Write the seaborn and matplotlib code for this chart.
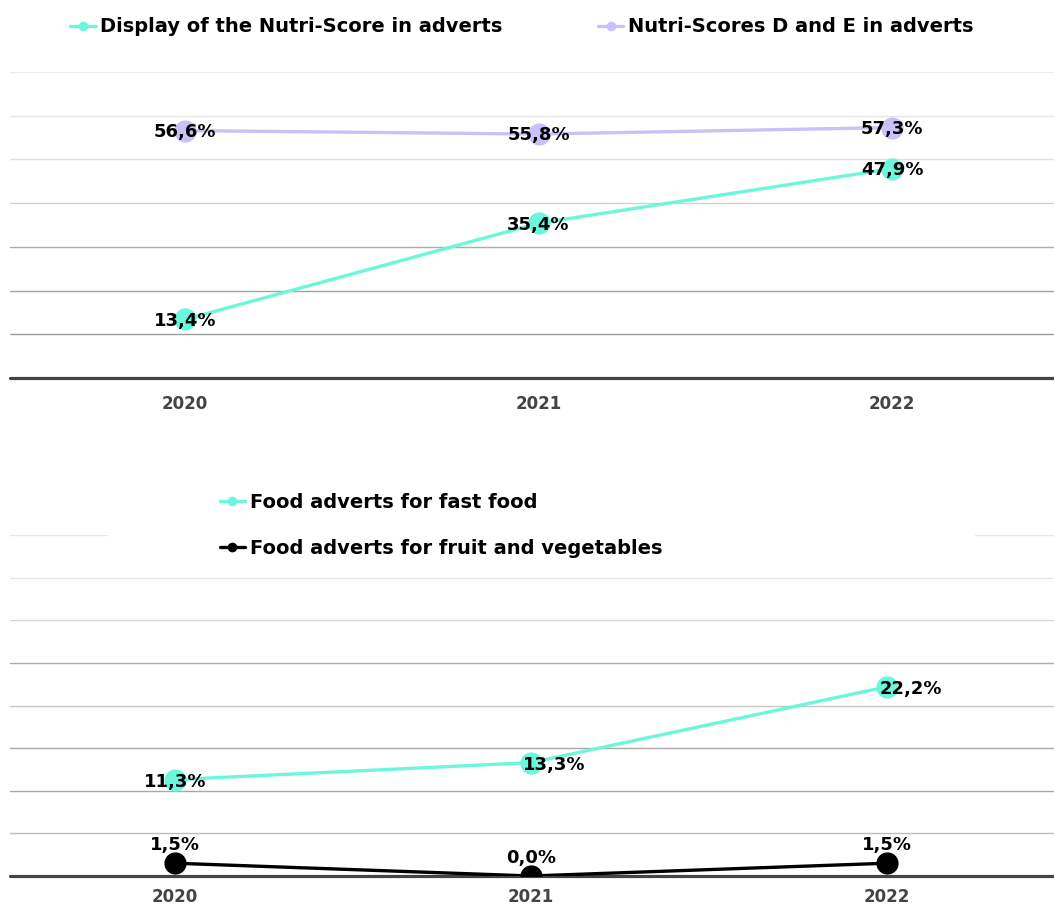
import matplotlib
matplotlib.use("Agg")
import matplotlib.pyplot as plt
from matplotlib.lines import Line2D
from matplotlib.patches import Rectangle
import seaborn as sns
import pandas as pd

# ---------------- data ----------------
years = ["2020", "2021", "2022"]
nutri_display = [13.4, 35.4, 47.9]
nutri_de = [56.6, 55.8, 57.3]
fast_food = [11.3, 13.3, 22.2]
fruit_veg = [1.5, 0.0, 1.5]

top_names = ["Display of the Nutri-Score in adverts", "Nutri-Scores D and E in adverts"]
bottom_names = ["Food adverts for fast food", "Food adverts for fruit and vegetables"]

top_ticks = [10, 20, 30, 40, 50, 60, 70]
bottom_ticks = [5, 10, 15, 20, 25, 30, 35, 40]

# ---------------- style ----------------
CYAN = "#6cf7dd"
LAVENDER = "#cbc0f7"
BLACK = "#000000"
BASE = "#444444"
top_grid_colors = ["#9c9c9c", "#a2a2a2", "#acacac", "#d2d2d2", "#e0e0e0", "#e6e6e6", "#ececec"]
bottom_grid_colors = ["#bdbdbd", "#a8a8a8", "#aaaaaa", "#c6c6c6", "#acacac", "#d6d6d6", "#e6e6e6", "#e8e8e8"]

sns.set_theme(style="white")
plt.rcParams["font.family"] = ["DejaVu Sans"]
plt.rcParams["text.color"] = "black"
plt.rcParams["legend.labelcolor"] = "black"

W, H = 1054, 906
fig = plt.figure(figsize=(W / 100, H / 100), dpi=100)

def fx(px):
    return px / W

def fy(py):
    return 1 - py / H

ax1 = fig.add_axes([fx(10), fy(378), fx(1044), (378 - 72) / H])
ax2 = fig.add_axes([fx(10), fy(876), fx(1044), (876 - 535) / H])

def fmt(v):
    return f"{v:.1f}%".replace(".", ",")

def draw_panel(ax, names, series, colors, ticks, grid_colors, ylim, xlim, offsets, pad):
    rows = []
    for name, vals in zip(names, series):
        for y, v in zip(years, vals):
            rows.append({"year": y, "value": v, "series": name})
    df = pd.DataFrame(rows)
    for t, c in zip(ticks, grid_colors):
        ax.axhline(t, color=c, lw=1.0, zorder=1)
    sns.lineplot(data=df, x="year", y="value", hue="series", palette=dict(zip(names, colors)),
                 marker="o", markersize=16, markeredgewidth=0, linewidth=2.4,
                 legend=False, ax=ax, zorder=3, sort=False)
    ax.axhline(0, color=BASE, lw=2.3, zorder=2, clip_on=False)
    for vals, offs in zip(series, offsets):
        for i, v in enumerate(vals):
            dx, dy = offs[i]
            ax.annotate(fmt(v), (i, v), xytext=(dx, dy), textcoords="offset points",
                        ha="center", va="center", fontsize=13, fontweight="bold",
                        color="black", zorder=5, annotation_clip=False)
    ax.set_ylim(*ylim)
    ax.set_xlim(*xlim)
    ax.set_xlabel("")
    ax.set_ylabel("")
    ax.set_yticks([])
    ax.set_xticks(range(len(years)))
    ax.set_xticklabels(years, fontsize=12, fontweight="bold", color=BASE)
    ax.tick_params(axis="x", length=0, pad=pad)
    for s in ax.spines.values():
        s.set_visible(False)
    ax.set_facecolor("none")

draw_panel(ax1, top_names, [nutri_display, nutri_de], [CYAN, LAVENDER], top_ticks,
           top_grid_colors, (0, 70), (-0.495, 2.458),
           [[(0, -1), (0, -1), (0, -1)], [(0, -1), (0, -1), (0, -1)]], 12.5)
draw_panel(ax2, bottom_names, [fast_food, fruit_veg], [CYAN, BLACK], bottom_ticks,
           bottom_grid_colors, (0, 40), (-0.463, 2.469),
           [[(0, -2), (16.5, -1.5), (17, -1.5)], [(0, 13), (0, 13), (0, 13)]], 8.5)

def handle(c):
    return Line2D([], [], color=c, lw=2.4, marker="o", markersize=7, markeredgewidth=0)

leg1 = fig.legend([handle(CYAN), handle(LAVENDER)], top_names, ncol=2,
                  loc="center", bbox_to_anchor=(fx(522), fy(27)), frameon=False,
                  prop={"size": 14, "weight": "bold"}, handlelength=1.3,
                  handletextpad=0.25, columnspacing=4.9, labelcolor="black")

# white backdrop behind bottom legend
fig.patches.append(Rectangle((fx(108), fy(565)), fx(975 - 108), (565 - 478) / H,
                             transform=fig.transFigure, facecolor="white",
                             edgecolor="none", zorder=1))
leg2 = fig.legend([handle(CYAN), handle(BLACK)], bottom_names, ncol=1,
                  loc="upper left", bbox_to_anchor=(fx(202), fy(475)), frameon=False,
                  prop={"size": 14, "weight": "bold"}, handlelength=1.3,
                  handletextpad=0.25, labelspacing=1.4, labelcolor="black")
leg2.set_zorder(2)

fig.savefig("out.png", dpi=100, facecolor="white")
